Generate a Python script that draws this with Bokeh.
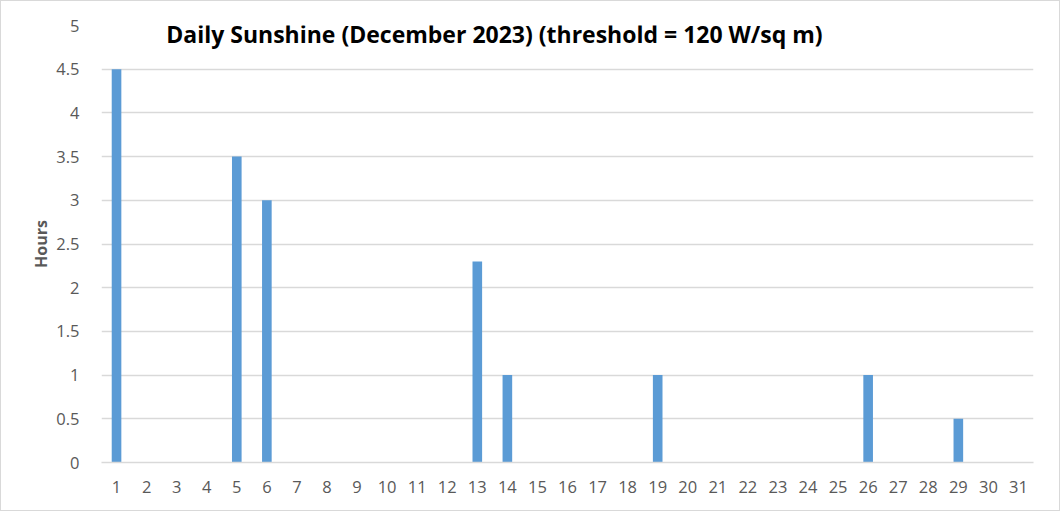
from bokeh.plotting import figure
from bokeh.models import Range1d, FixedTicker, Label, ColumnDataSource
from bokeh.embed import file_html
from bokeh.resources import INLINE

days = list(range(1, 32))
hours = [4.5, 0, 0, 0, 3.5, 3, 0, 0, 0, 0, 0, 0, 2.3, 1, 0, 0, 0, 0, 1, 0,
         0, 0, 0, 0, 0, 1, 0, 0, 0.5, 0, 0]
y_ticks = [0, 0.5, 1, 1.5, 2, 2.5, 3, 3.5, 4, 4.5, 5]
title_text = "Daily Sunshine (December 2023) (threshold = 120 W/sq m)"
y_label = "Hours"

FONT = "Open Sans"
GREY = "#595959"

p = figure(width=1060, height=511, output_backend="svg", toolbar_location=None,
           x_range=Range1d(0.5, 31.5), y_range=Range1d(0, 5),
           min_border_left=100, min_border_right=28, min_border_top=24, min_border_bottom=50)
p.outline_line_color = None
p.background_fill_color = "white"
p.border_fill_color = "white"

src = ColumnDataSource(dict(x=days, top=hours))
p.vbar(x="x", top="top", bottom=0, width=0.32, source=src, fill_color="#5b9bd5", line_color=None)

p.xgrid.grid_line_color = None
p.ygrid.grid_line_color = "#d9d9d9"
p.ygrid.grid_line_width = 1.3
p.ygrid.ticker = FixedTicker(ticks=y_ticks)

p.xaxis.ticker = FixedTicker(ticks=days)
p.xaxis.axis_line_color = "#d9d9d9"
p.xaxis.axis_line_width = 1.3
p.xaxis.major_tick_line_color = None
p.xaxis.minor_tick_line_color = None
p.xaxis.major_label_text_font = FONT
p.xaxis.major_label_text_font_size = "16.5px"
p.xaxis.major_label_text_color = GREY
p.xaxis.major_label_standoff = 12

p.yaxis.ticker = FixedTicker(ticks=y_ticks)
p.yaxis.axis_line_color = None
p.yaxis.major_tick_line_color = None
p.yaxis.minor_tick_line_color = None
p.yaxis.major_label_text_font = FONT
p.yaxis.major_label_text_font_size = "16.5px"
p.yaxis.major_label_text_color = GREY
p.yaxis.major_label_standoff = 16
p.yaxis.axis_label = y_label
p.yaxis.axis_label_text_font = FONT
p.yaxis.axis_label_text_font_size = "16px"
p.yaxis.axis_label_text_font_style = "bold"
p.yaxis.axis_label_text_color = GREY
p.yaxis.axis_label_standoff = 1

p.add_layout(Label(x=13.57, y=4.9, text=title_text, text_align="center", text_baseline="middle",
                   text_font=FONT, text_font_size="23px", text_font_style="bold", text_color="black"))

p.styles = {"border": "1px solid #d9d9d9", "box-sizing": "border-box"}

open("out.html", "w").write(file_html(p, INLINE))
